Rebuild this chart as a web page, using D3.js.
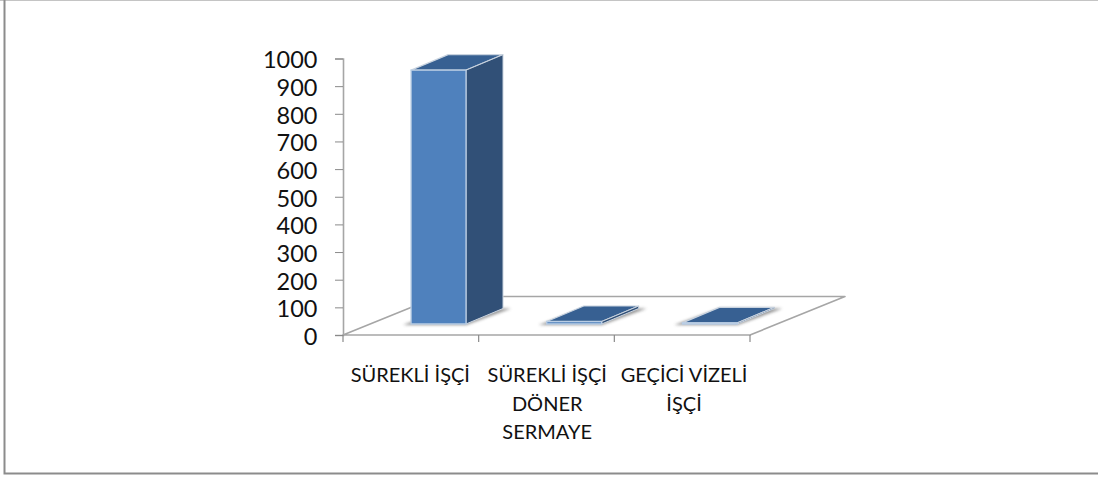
<!DOCTYPE html>
<html><head><meta charset="utf-8">
<script src="https://cdn.jsdelivr.net/npm/d3@7"></script>
<style>html,body{margin:0;padding:0;background:#fff}svg{display:block}
text{font-family:Lato,sans-serif;fill:#111}</style></head>
<body><div id="c"></div>
<script>
const categories = ["SÜREKLİ İŞÇİ", "SÜREKLİ İŞÇİ DÖNER SERMAYE", "GEÇİCİ VİZELİ İŞÇİ"];
const categoryLines = [["SÜREKLİ İŞÇİ"], ["SÜREKLİ İŞÇİ", "DÖNER", "SERMAYE"], ["GEÇİCİ VİZELİ", "İŞÇİ"]];
const values = [918, 9, 4];
const yTicks = [0,100,200,300,400,500,600,700,800,900,1000];

const W = 1098, H = 477;
const svg = d3.select("#c").append("svg").attr("width", W).attr("height", H);
const defs = svg.append("defs");
const soft = defs.append("filter").attr("id","soft").attr("x","-20%").attr("y","-60%").attr("width","140%").attr("height","220%");
soft.append("feGaussianBlur").attr("stdDeviation",1.6);
const aa = defs.append("filter").attr("id","aa").attr("x","-5%").attr("y","-5%").attr("width","110%").attr("height","110%");
aa.append("feGaussianBlur").attr("stdDeviation",0.35);

// outer frame
const frame = svg.append("g").attr("fill","none");
frame.append("path").attr("d","M0,0.5H1098").attr("stroke","#c4c4c4").attr("stroke-width",1);
frame.append("path").attr("d","M4.5,0V473.5H1098").attr("stroke","#8c8c8c").attr("stroke-width",2);

const x = d3.scaleBand().domain(categories).range([343, 750]).paddingInner(0.595).paddingOuter(0.2975);
const y = d3.scaleLinear().domain([0, 1000]).range([335, 58.5]);

// depth projection
const floorDx = 95, floorDy = -38.5;   // whole floor depth
const barShiftX = 27.7, barShiftY = -11; // bar position in the floor
const barDx = 37, barDy = -15.5;       // bar depth

const gray = "#a6a6a6";
const x0 = x.range()[0], x1 = x.range()[1], y0 = y(0);
// floor
const floor = svg.append("g").attr("filter","url(#aa)");
floor.append("path")
  .attr("d", d3.line()([[x0,y0],[x1,y0],[x1+floorDx,y0+floorDy],[x0+floorDx,y0+floorDy]]) + "Z")
  .attr("fill","#fff").attr("stroke",gray).attr("stroke-width",1.6).attr("stroke-linejoin","round");

// axes
const axisY = d3.axisLeft(y).tickValues(yTicks).tickFormat(d3.format("d")).tickSize(8).tickPadding(17.5);
const gy = svg.append("g").attr("transform",`translate(${x0},0)`).call(axisY);
gy.select(".domain").attr("stroke","#a6a6a6").attr("stroke-width",1.6);
gy.selectAll(".tick line").attr("stroke","#8a8a8a").attr("stroke-width",1);
gy.selectAll("text").attr("font-size",23.5).attr("dy","0.4em").style("font-family","Lato,sans-serif");

const gx = svg.append("g").attr("transform",`translate(0,${y0})`);
const edges = categories.map((c,i)=> x0 + i*x.step()).concat([x1]);
gx.selectAll("line.t").data(edges).join("line").attr("class","t")
  .attr("x1",d=>d).attr("x2",d=>d).attr("y1",0).attr("y2",7).attr("stroke","#8a8a8a").attr("stroke-width",1.2);

// bars
const bars = svg.selectAll("g.bar").data(categories.map((c,i)=>({c,v:values[i]}))).join("g").attr("class","bar");
bars.each(function(d){
  const g = d3.select(this);
  const l = x(d.c) + barShiftX, r = l + x.bandwidth();
  const b = y(0) + barShiftY, t = y(d.v) + barShiftY;
  const P = pts => d3.line()(pts) + "Z";
  // shadow on floor
  g.append("path").attr("filter","url(#soft)").attr("fill","#8a8a8a").attr("opacity",.9)
    .attr("d",P([[l-8,b+1],[r,b+1],[r+barDx+8,b+barDy],[l+barDx,b+barDy],]));
  const stroke="#c9d3df";
  g.append("path").attr("d",P([[l,t],[r,t],[r+barDx,t+barDy],[l+barDx,t+barDy]]))
    .attr("fill","#376092").attr("stroke",stroke).attr("stroke-width",1.2).attr("stroke-linejoin","round");
  g.append("path").attr("d",P([[r,t],[r+barDx,t+barDy],[r+barDx,b+barDy],[r,b]]))
    .attr("fill","#315077").attr("stroke",stroke).attr("stroke-width",1).attr("stroke-linejoin","round");
  g.append("path").attr("d",P([[l,t],[r,t],[r,b],[l,b]]))
    .attr("fill","#4f81bd").attr("stroke","#b9cde4").attr("stroke-width",1.3);
});

// category labels
const labels = svg.append("g").attr("text-anchor","middle").attr("font-size",20);
categories.forEach((c,i)=>{
  const cx = x(c) + x.bandwidth()/2 + i*1.2 - 0.5;
  categoryLines[i].forEach((ln,j)=>{
    labels.append("text").attr("x",cx).attr("y",382 + j*28.5).text(ln);
  });
});
</script></body></html>
